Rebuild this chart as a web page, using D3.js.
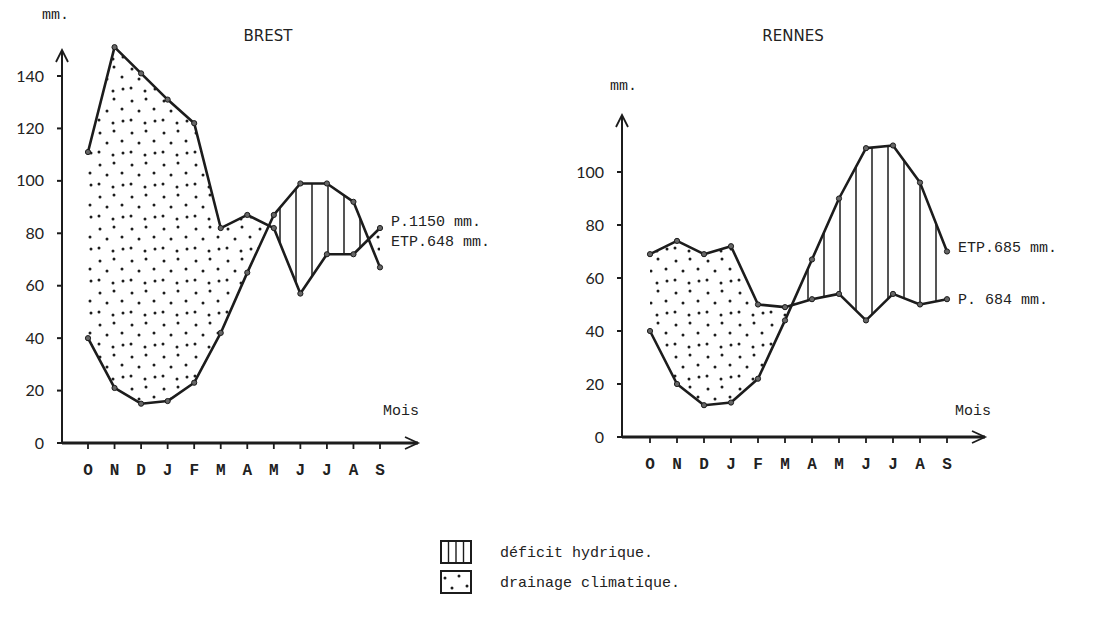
<!DOCTYPE html>
<html>
<head>
<meta charset="utf-8">
<script src="https://cdn.jsdelivr.net/npm/d3@7"></script>
<style>
  body { margin: 0; background: #fff; }
  .tick-lab { font-family: Lato, "DejaVu Sans", sans-serif; font-size: 16px; fill: #222; }
  .mono { font-family: "Liberation Mono", "DejaVu Sans Mono", monospace; font-size: 15px; fill: #222; }
  .month { font-family: "Liberation Mono", monospace; font-size: 16px; font-weight: bold; fill: #222; }
  .title { font-family: "DejaVu Sans", sans-serif; font-size: 15px; fill: #222; }
</style>
</head>
<body>
<script>
// months of the hydrological year (Oct -> Sep)
var months = ["O", "N", "D", "J", "F", "M", "A", "M", "J", "J", "A", "S"];

// Brest (mm)
var brestP   = [111, 151, 141, 131, 122, 82, 87, 82, 57, 72, 72, 82];
var brestETP = [40, 21, 15, 16, 23, 42, 65, 87, 99, 99, 92, 67];
var brestTicks = [0, 20, 40, 60, 80, 100, 120, 140];

// Rennes (mm)
var rennesP   = [69, 74, 69, 72, 50, 49, 52, 54, 44, 54, 50, 52];
var rennesETP = [40, 20, 12, 13, 22, 44, 67, 90, 109, 110, 96, 70];
var rennesTicks = [0, 20, 40, 60, 80, 100];

var ink = "#1c1c1c";

var svg = d3.select("body").append("svg")
    .attr("width", 1109)
    .attr("height", 633);

var defs = svg.append("defs");

// stipple pattern for "drainage climatique"
var dots = defs.append("pattern")
    .attr("id", "dots")
    .attr("patternUnits", "userSpaceOnUse")
    .attr("width", 32).attr("height", 32);
[[4, 5], [18, 3], [11, 15], [26, 13], [3, 24], [17, 27], [27, 25]].forEach(function (p) {
    dots.append("circle").attr("cx", p[0]).attr("cy", p[1]).attr("r", 1.5).attr("fill", ink);
});

// vertical hatch for "deficit hydrique"
defs.append("pattern")
    .attr("id", "hatch")
    .attr("patternUnits", "userSpaceOnUse")
    .attr("width", 16).attr("height", 10)
    .append("line")
    .attr("x1", 8).attr("x2", 8).attr("y1", 0).attr("y2", 10)
    .attr("stroke", ink).attr("stroke-width", 1.5);

function panel(o) {
    var x = d3.scalePoint().domain(d3.range(12)).range(o.xr);
    var y = d3.scaleLinear().domain([0, o.ymax]).range(o.yr);
    var y0 = y(0), yTop = y(o.ymax + 20);

    // regions between the two curves
    var belowP = d3.area().x(function (d, i) { return x(i); }).y0(y0).y1(function (d) { return y(d); });
    var aboveETP = d3.area().x(function (d, i) { return x(i); }).y0(yTop).y1(function (d) { return y(d); });

    defs.append("clipPath").attr("id", o.id + "-aboveETP")
        .append("path").attr("d", aboveETP(o.etp));
    defs.append("clipPath").attr("id", o.id + "-aboveP")
        .append("path").attr("d", aboveETP(o.p));

    // drainage: under P and above ETP
    svg.append("path")
        .attr("d", belowP(o.p))
        .attr("fill", "url(#dots)")
        .attr("clip-path", "url(#" + o.id + "-aboveETP)");

    // deficit: under ETP and above P
    svg.append("path")
        .attr("d", belowP(o.etp))
        .attr("fill", "url(#hatch)")
        .attr("clip-path", "url(#" + o.id + "-aboveP)");

    // curves
    var line = d3.line().x(function (d, i) { return x(i); }).y(function (d) { return y(d); });
    [o.p, o.etp].forEach(function (s) {
        svg.append("path")
            .attr("d", line(s))
            .attr("fill", "none")
            .attr("stroke", ink)
            .attr("stroke-width", 2.6)
            .attr("stroke-linejoin", "round");
        svg.selectAll(null).data(s).enter().append("circle")
            .attr("cx", function (d, i) { return x(i); })
            .attr("cy", function (d) { return y(d); })
            .attr("r", 2.6)
            .attr("fill", "#666")
            .attr("stroke", ink)
            .attr("stroke-width", 1);
    });

    // axes
    var axX = o.axisX;
    svg.append("line")
        .attr("x1", axX).attr("x2", axX).attr("y1", y0).attr("y2", o.arrowTop)
        .attr("stroke", ink).attr("stroke-width", 2);
    svg.append("path")
        .attr("d", "M" + (axX - 6) + "," + (o.arrowTop + 12) + "L" + axX + "," + o.arrowTop + "L" + (axX + 6) + "," + (o.arrowTop + 12))
        .attr("fill", "none").attr("stroke", ink).attr("stroke-width", 1.8);
    svg.append("line")
        .attr("x1", axX).attr("x2", o.arrowRight).attr("y1", y0).attr("y2", y0)
        .attr("stroke", ink).attr("stroke-width", 3);
    svg.append("path")
        .attr("d", "M" + (o.arrowRight - 13) + "," + (y0 - 6) + "L" + o.arrowRight + "," + y0 + "L" + (o.arrowRight - 13) + "," + (y0 + 6))
        .attr("fill", "none").attr("stroke", ink).attr("stroke-width", 1.8);

    // y ticks
    svg.selectAll(null).data(o.ticks).enter().append("line")
        .attr("x1", axX - 5).attr("x2", axX)
        .attr("y1", function (d) { return y(d); })
        .attr("y2", function (d) { return y(d); })
        .attr("stroke", ink).attr("stroke-width", 2);
    svg.selectAll(null).data(o.ticks).enter().append("text")
        .attr("class", "tick-lab")
        .attr("x", axX - 18)
        .attr("y", function (d) { return y(d); })
        .attr("dy", "0.35em")
        .attr("text-anchor", "end")
        .text(function (d) { return d; });

    // x ticks + month letters
    svg.selectAll(null).data(d3.range(12)).enter().append("line")
        .attr("x1", function (i) { return x(i); })
        .attr("x2", function (i) { return x(i); })
        .attr("y1", y0).attr("y2", y0 + 6)
        .attr("stroke", ink).attr("stroke-width", 1.8);
    svg.selectAll(null).data(months).enter().append("text")
        .attr("class", "month")
        .attr("x", function (d, i) { return x(i); })
        .attr("y", y0 + 32)
        .attr("text-anchor", "middle")
        .text(function (d) { return d; });

    // labels
    svg.append("text").attr("class", "mono").attr("x", o.mmX).attr("y", o.mmY).text("mm.");
    svg.append("text").attr("class", "title").attr("x", o.titleX).attr("y", 41)
        .attr("text-anchor", "middle").text(o.title);
    svg.append("text").attr("class", "mono").attr("x", o.moisX).attr("y", 415).text("Mois");
    o.notes.forEach(function (n) {
        svg.append("text").attr("class", "mono")
            .attr("x", x(11) + 11).attr("y", n.y).attr("dy", "0.35em").text(n.t);
    });
}

panel({
    id: "brest", title: "BREST", p: brestP, etp: brestETP, ticks: brestTicks,
    ymax: 140, xr: [88, 380], yr: [443, 76], axisX: 62, arrowTop: 50, arrowRight: 418,
    mmX: 42, mmY: 19, titleX: 268, moisX: 383,
    notes: [{ t: "P.1150 mm.", y: 221 }, { t: "ETP.648 mm.", y: 241 }]
});

panel({
    id: "rennes", title: "RENNES", p: rennesP, etp: rennesETP, ticks: rennesTicks,
    ymax: 100, xr: [650, 947], yr: [437, 172], axisX: 622, arrowTop: 115, arrowRight: 985,
    mmX: 610, mmY: 90, titleX: 793, moisX: 955,
    notes: [{ t: "ETP.685 mm.", y: 247 }, { t: "P. 684 mm.", y: 299 }]
});

// legend
var lg = svg.append("g").attr("transform", "translate(441,541)");
lg.append("rect").attr("width", 30).attr("height", 22)
    .attr("fill", "none").attr("stroke", ink).attr("stroke-width", 2);
[7.5, 15, 22.5].forEach(function (lx) {
    lg.append("line").attr("x1", lx).attr("x2", lx).attr("y1", 0).attr("y2", 22)
        .attr("stroke", ink).attr("stroke-width", 1.4);
});
lg.append("rect").attr("y", 30).attr("width", 30).attr("height", 22)
    .attr("fill", "url(#dots)").attr("stroke", ink).attr("stroke-width", 2);
lg.append("text").attr("class", "mono").attr("x", 59).attr("y", 11).attr("dy", "0.35em").text("déficit hydrique.");
lg.append("text").attr("class", "mono").attr("x", 59).attr("y", 41).attr("dy", "0.35em").text("drainage climatique.");
</script>
</body>
</html>
